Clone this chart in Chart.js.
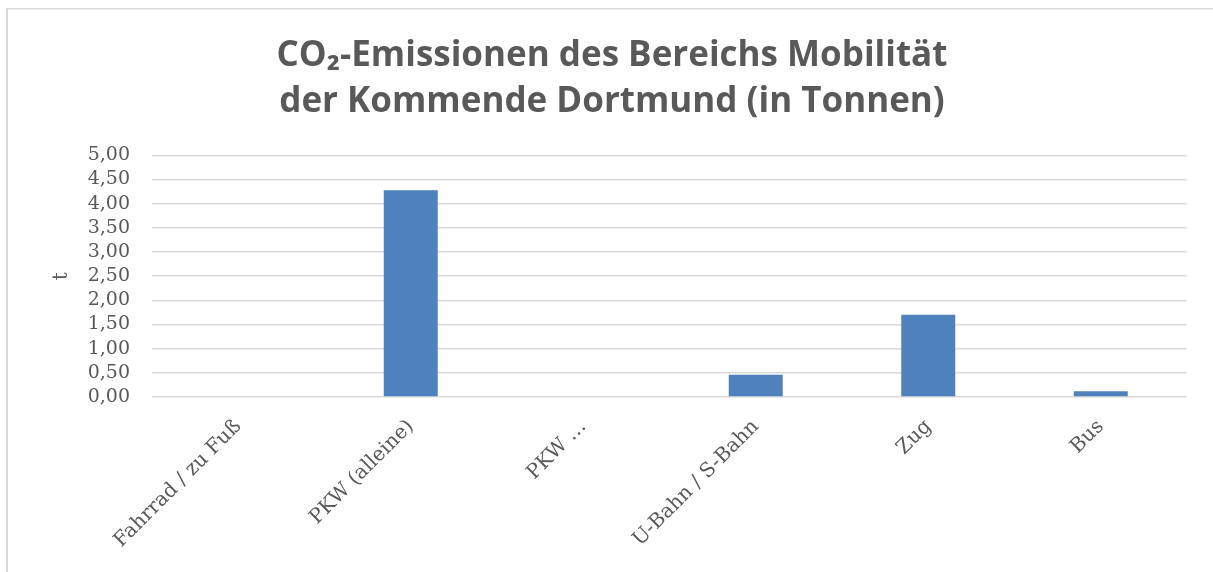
<!DOCTYPE html>
<html>
<head>
<meta charset="utf-8">
<script src="https://cdn.jsdelivr.net/npm/chart.js@4.4.0/dist/chart.umd.min.js"></script>
<style>
  html, body { margin: 0; padding: 0; background: #ffffff; }
  #wrap { width: 1213px; height: 572px; position: relative; }
</style>
</head>
<body>
<div id="wrap"><canvas id="c" width="1213" height="572"></canvas></div>
<script>
const categories = ["Fahrrad / zu Fuß", "PKW (alleine)", "PKW …", "U-Bahn / S-Bahn", "Zug", "Bus"];
const emissions = [0, 4.28, 0, 0.46, 1.70, 0.12];
const yTickLabels = ["0,00", "0,50", "1,00", "1,50", "2,00", "2,50", "3,00", "3,50", "4,00", "4,50", "5,00"];
const titleLines = ["CO₂-Emissionen des Bereichs Mobilität", "der Kommende Dortmund (in Tonnen)"];
const yAxisTitle = "t";

const frame = {
  id: 'frame',
  beforeDraw(chart) {
    const ctx = chart.ctx;
    ctx.save();
    ctx.fillStyle = '#ffffff';
    ctx.fillRect(0, 0, chart.width, chart.height);
    ctx.fillStyle = '#d9d9d9';
    ctx.fillRect(6, 8, 2, chart.height - 8);
    ctx.fillRect(6, 8, chart.width - 6, 1.5);
    ctx.restore();
  }
};

new Chart(document.getElementById('c'), {
  type: 'bar',
  data: {
    labels: categories,
    datasets: [{
      data: emissions,
      backgroundColor: '#4f81bd',
      borderWidth: 0,
      barPercentage: 1,
      categoryPercentage: 0.313
    }]
  },
  options: {
    responsive: false,
    animation: false,
    layout: { padding: { left: 37, right: 26, top: 0, bottom: 0 } },
    plugins: {
      legend: { display: false },
      tooltip: { enabled: false },
      title: {
        display: true,
        text: titleLines,
        color: '#595959',
        font: { family: '"Open Sans", sans-serif', size: 35, weight: '700', lineHeight: 1.32 },
        padding: { top: 33, bottom: 30 }
      }
    },
    scales: {
      x: {
        grid: { display: false, drawTicks: false },
        border: { display: false },
        ticks: {
          color: '#595959',
          font: { family: '"DejaVu Serif", serif', size: 20 },
          minRotation: 45,
          maxRotation: 45,
          autoSkip: false,
          padding: 18
        },
        afterFit(scale) { scale.height = 175; }
      },
      y: {
        min: 0,
        max: 5,
        grid: { color: '#d9d9d9', lineWidth: 1.5, drawTicks: false },
        border: { display: false },
        ticks: {
          stepSize: 0.5,
          autoSkip: false,
          color: '#595959',
          font: { family: '"DejaVu Serif", serif', size: 19 },
          padding: 22,
          callback: (v, i) => yTickLabels[i]
        },
        title: {
          display: true,
          text: yAxisTitle,
          color: '#595959',
          font: { family: '"DejaVu Serif", serif', size: 20 },
          padding: { top: 13, bottom: 0 }
        },
        afterFit(scale) { scale.width = 115; }
      }
    }
  },
  plugins: [frame]
});
</script>
</body>
</html>
